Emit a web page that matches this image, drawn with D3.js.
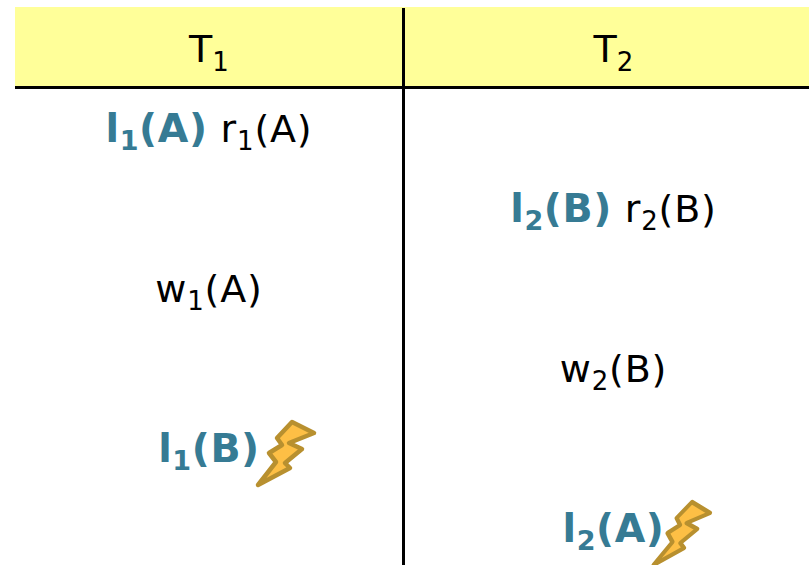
<!DOCTYPE html>
<html>
<head>
<meta charset="utf-8">
<script src="https://cdn.jsdelivr.net/npm/d3@7"></script>
<style>
  html, body { margin: 0; padding: 0; background: #fff; overflow: hidden; }
  svg { display: block; }
</style>
</head>
<body>
<div id="chart"></div>
<script>
const columns = ['1', '2'];
const rows = [0, 1, 2, 3, 4, 5];

// [column, row, operations] where an operation is [letter, index, item]
const schedule = [
  ['1', 0, [['l', '1', '(A)'], ['r', '1', '(A)']]],
  ['2', 1, [['l', '2', '(B)'], ['r', '2', '(B)']]],
  ['1', 2, [['w', '1', '(A)']]],
  ['2', 3, [['w', '2', '(B)']]],
  ['1', 4, [['l', '1', '(B)']]],
  ['2', 5, [['l', '2', '(A)']]]
];
const deadlockRows = [4, 5];
const boltGap = { 4: 49, 5: 46 };
const boltSkew = { 4: 0, 5: -7.6 };
const boltScale = { 4: 1, 5: 0.885 };

const WIDTH = 809, HEIGHT = 565;
const FONT = '"DejaVu Sans", Verdana, sans-serif';
const SIZE = 38, SUB = 26;
const BOLD_SIZE = 39.5, BOLD_SUB = 27;
const LOCK = '#367b94';

const x = d3.scalePoint().domain(columns).range([209, 613.5]);
const y = d3.scalePoint().domain(rows).range([130, 530]);

const svg = d3.select('#chart')
  .append('svg')
  .attr('width', WIDTH)
  .attr('height', HEIGHT)
  .attr('viewBox', [0, 0, WIDTH, HEIGHT])
  .attr('font-family', FONT);

svg.append('rect')
  .attr('x', 15)
  .attr('y', 7)
  .attr('width', WIDTH - 15)
  .attr('height', 80)
  .attr('fill', '#ffff99');

svg.append('line')
  .attr('x1', 15)
  .attr('x2', WIDTH)
  .attr('y1', 87.5)
  .attr('y2', 87.5)
  .attr('stroke', '#000')
  .attr('stroke-width', 3);

svg.append('line')
  .attr('x1', 403.5)
  .attr('x2', 403.5)
  .attr('y1', 8)
  .attr('y2', HEIGHT)
  .attr('stroke', '#000')
  .attr('stroke-width', 3);

// one operation: letter, subscript index, then the item back on the baseline
function addOperation(text, op, bold, first) {
  const color = bold ? LOCK : '#000';
  const weight = bold ? 'bold' : 'normal';
  const spacing = bold ? 0.6 : 0.8;
  const span = (size, s) => text.append('tspan')
    .attr('font-size', size)
    .attr('font-weight', weight)
    .attr('letter-spacing', spacing)
    .attr('fill', color)
    .text(s);
  const letter = span(bold ? BOLD_SIZE : SIZE, op[0]);
  if (!first) letter.attr('dx', 13);
  span(bold ? BOLD_SUB : SUB, op[1]).attr('dy', 8);
  span(bold ? BOLD_SIZE : SIZE, op[2]).attr('dy', -8);
}

svg.append('g')
  .selectAll('text')
  .data(columns)
  .join('text')
  .attr('text-anchor', 'middle')
  .attr('x', d => x(d))
  .attr('y', 62)
  .each(function (d) {
    const t = d3.select(this);
    t.append('tspan').attr('font-size', SIZE).text('T');
    t.append('tspan').attr('font-size', SUB).attr('dy', 9).text(d);
  });

svg.append('g')
  .selectAll('text')
  .data(schedule)
  .join('text')
  .attr('text-anchor', 'middle')
  .attr('x', d => x(d[0]))
  .attr('y', d => y(d[1]) + 12)
  .each(function (d) {
    const t = d3.select(this);
    d[2].forEach((op, i) => addOperation(t, op, op[0] === 'l', i === 0));
  });

// lightning bolt, outline relative to the end of its lock label
const boltShape = [[34, -18], [56, -7], [31, 3], [44, 9], [27, 23], [32, 28], [0, 45], [18, 22], [11, 13], [24, 5], [19, -2]];
const bolt = d3.line().curve(d3.curveLinearClosed);

svg.append('g')
  .selectAll('path')
  .data(schedule.filter(d => deadlockRows.includes(d[1])))
  .join('path')
  .attr('d', bolt(boltShape))
  .attr('transform', d => `translate(${x(d[0]) + boltGap[d[1]]},${y(d[1]) - 10}) skewX(${boltSkew[d[1]]}) scale(${boltScale[d[1]]},1)`)
  .attr('fill', '#fdbf45')
  .attr('stroke', '#b8902f')
  .attr('stroke-width', 4.5)
  .attr('stroke-linejoin', 'round');
</script>
</body>
</html>
